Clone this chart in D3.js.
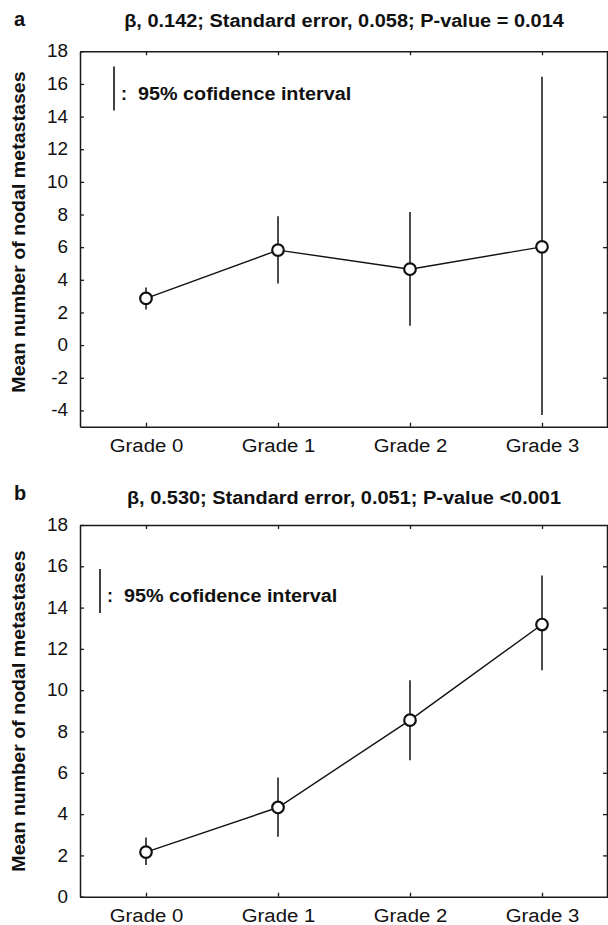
<!DOCTYPE html>
<html>
<head>
<meta charset="utf-8">
<script src="https://cdn.jsdelivr.net/npm/d3@7"></script>
<style>
    body { margin: 0; background: #fff; }
    text { font-family: 'Liberation Sans', Arial, Helvetica, sans-serif; fill: #111; }
</style>
</head>
<body>
<div class="box"></div>
<script>
const width = 608;
const height = 925;

const grades = ['Grade 0', 'Grade 1', 'Grade 2', 'Grade 3'];

// panel a
const titleA = 'β, 0.142; Standard error, 0.058; P-value = 0.014';
const meanA = [2.86, 5.82, 4.65, 6.02];
const lowA = [2.18, 3.78, 1.18, -4.29];
const highA = [3.53, 7.9, 8.16, 16.44];
const yTicksA = [-4, -2, 0, 2, 4, 6, 8, 10, 12, 14, 16, 18];
const rightTicksA = [-2, 2, 6, 10, 14];

// panel b
const titleB = 'β, 0.530; Standard error, 0.051; P-value <0.001';
const meanB = [2.16, 4.32, 8.55, 13.18];
const lowB = [1.53, 2.9, 6.61, 10.97];
const highB = [2.87, 5.77, 10.48, 15.56];
const yTicksB = [0, 2, 4, 6, 8, 10, 12, 14, 16, 18];
const rightTicksB = [2, 4, 6, 8, 10, 12, 14, 16];

const yTitle = 'Mean number of nodal metastases';
const legendText = '95% cofidence interval';

const svg = d3
    .select('.box')
    .append('svg')
    .attr('width', width)
    .attr('height', height)
    .style('background-color', 'white');

// the scanned type is a bit wider than Liberation Sans, stretch it
function stretch(sel, k) {
    sel.each(function () {
        const w = this.getComputedTextLength();
        d3.select(this)
            .attr('textLength', w * k)
            .attr('lengthAdjust', 'spacingAndGlyphs');
    });
}

function drawPanel(p) {
    const left = 80;
    const right = 608;
    const x = d3.scalePoint().domain(grades).range([left, right]).padding(0.5);
    const y = d3.scaleLinear().domain(p.yDomain).range([p.bottom, p.top]);

    const g = svg.append('g');

    // letter + title
    g.append('text')
        .attr('x', 14)
        .attr('y', p.top - 25)
        .attr('font-size', 20)
        .attr('font-weight', 'bold')
        .text(p.letter);

    const t = g
        .append('text')
        .attr('x', (left + right) / 2)
        .attr('y', p.titleY)
        .attr('text-anchor', 'middle')
        .attr('font-size', 17.5)
        .attr('font-weight', 'bold')
        .text(p.title);
    stretch(t, 1.14);

    // axes
    const axLeft = g
        .append('g')
        .attr('transform', `translate(${left},0)`)
        .call(
            d3
                .axisLeft(y)
                .tickValues(p.yTicks)
                .tickSize(-4)
                .tickSizeOuter(0)
                .tickPadding(12)
                .tickFormat((d) => String(d))
        );
    axLeft.selectAll('text').attr('font-size', 17.5).attr('font-family', null).call(stretch, 1.08);

    const axBottom = g
        .append('g')
        .attr('transform', `translate(0,${p.bottom})`)
        .call(d3.axisBottom(x).tickSize(-4).tickSizeOuter(0).tickPadding(13));
    axBottom.selectAll('text').attr('font-size', 18).attr('font-family', null).call(stretch, 1.13);

    g.append('g')
        .attr('transform', `translate(0,${p.top})`)
        .call(d3.axisTop(x).tickSize(-4).tickSizeOuter(0).tickFormat(''));

    g.append('g')
        .attr('transform', `translate(${right - 1},0)`)
        .call(d3.axisRight(y).tickValues(p.rightTicks).tickSize(-4).tickSizeOuter(0).tickFormat(''));

    g.selectAll('.domain').attr('stroke', '#1a1a1a').attr('stroke-width', 1.5);
    g.selectAll('.tick line').attr('stroke', '#1a1a1a').attr('stroke-width', 1.3);

    // y title
    const yt = g
        .append('text')
        .attr('transform', `translate(25,${p.yTitleY}) rotate(-90)`)
        .attr('text-anchor', 'middle')
        .attr('font-size', 17.5)
        .attr('font-weight', 'bold')
        .text(yTitle);
    stretch(yt, 1.12);

    // legend
    const lg = g.append('g').attr('transform', `translate(${p.legendX},${p.legendY})`);
    lg.append('line')
        .attr('x1', 0)
        .attr('x2', 0)
        .attr('y1', 0)
        .attr('y2', 44)
        .attr('stroke', '#111')
        .attr('stroke-width', 1.6);
    lg.append('text')
        .attr('x', 7)
        .attr('y', 33)
        .attr('font-size', 18)
        .attr('font-weight', 'bold')
        .text(':');
    const lt = lg
        .append('text')
        .attr('x', 24)
        .attr('y', 33)
        .attr('font-size', 17.5)
        .attr('font-weight', 'bold')
        .text(legendText);
    stretch(lt, 1.13);

    const rows = grades.map((gr, i) => ({
        grade: gr,
        mean: p.mean[i],
        low: p.low[i],
        high: p.high[i],
    }));

    // confidence intervals
    g.selectAll('line.ci')
        .data(rows)
        .enter()
        .append('line')
        .attr('class', 'ci')
        .attr('x1', (d) => x(d.grade))
        .attr('x2', (d) => x(d.grade))
        .attr('y1', (d) => y(d.low))
        .attr('y2', (d) => y(d.high))
        .attr('stroke', '#111')
        .attr('stroke-width', 1.5);

    // mean line
    const line = d3
        .line()
        .x((d) => x(d.grade))
        .y((d) => y(d.mean));
    g.append('path')
        .datum(rows)
        .attr('d', line)
        .attr('fill', 'none')
        .attr('stroke', '#111')
        .attr('stroke-width', 1.4);

    g.selectAll('circle')
        .data(rows)
        .enter()
        .append('circle')
        .attr('cx', (d) => x(d.grade))
        .attr('cy', (d) => y(d.mean))
        .attr('r', 5.8)
        .attr('fill', 'white')
        .attr('stroke', '#111')
        .attr('stroke-width', 2.2);
}

drawPanel({
    letter: 'a',
    title: titleA,
    titleY: 27,
    mean: meanA,
    low: lowA,
    high: highA,
    yDomain: [-5, 18],
    yTicks: yTicksA,
    rightTicks: rightTicksA,
    top: 51.3,
    bottom: 426.7,
    yTitleY: 232,
    legendX: 114,
    legendY: 66.5,
});

drawPanel({
    letter: 'b',
    title: titleB,
    titleY: 504,
    mean: meanB,
    low: lowB,
    high: highB,
    yDomain: [0, 18],
    yTicks: yTicksB,
    rightTicks: rightTicksB,
    top: 525,
    bottom: 896.7,
    yTitleY: 711,
    legendX: 100,
    legendY: 569,
});
</script>
</body>
</html>
